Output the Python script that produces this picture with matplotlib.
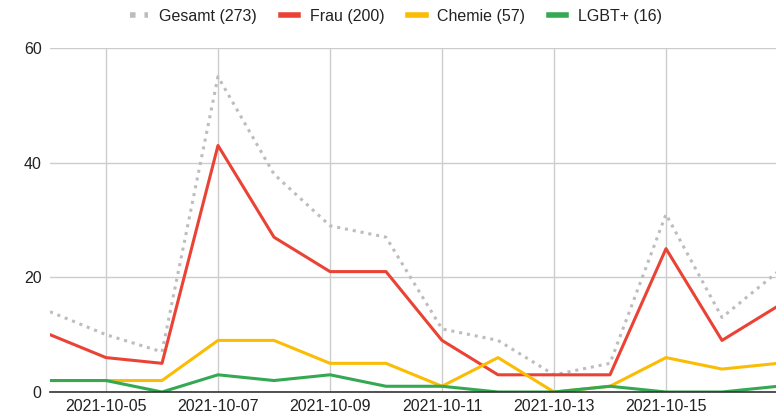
import matplotlib.pyplot as plt
import matplotlib.dates as mdates
import pandas as pd

plt.rcParams['font.family'] = ['Liberation Sans', 'DejaVu Sans']

days = pd.date_range('2021-10-04', '2021-10-17', freq='D')
gesamt = [14, 10, 7, 55, 38, 29, 27, 11, 9, 3, 5, 31, 13, 21]
frau = [10, 6, 5, 43, 27, 21, 21, 9, 3, 3, 3, 25, 9, 15]
chemie = [2, 2, 2, 9, 9, 5, 5, 1, 6, 0, 1, 6, 4, 5]
lgbt = [2, 2, 0, 3, 2, 3, 1, 1, 0, 0, 1, 0, 0, 1]

fig = plt.figure(figsize=(7.76, 4.15), dpi=100)
ax = fig.add_axes([50 / 776, 23 / 415, 726 / 776, 344 / 415])

ax.plot(days, gesamt, color='#bdbdbd', lw=2.2, linestyle=(0, (1, 1.6)),
        label=f'Gesamt ({sum(gesamt)})', zorder=3)
ax.plot(days, frau, color='#ea4335', lw=2.2, label=f'Frau ({sum(frau)})', zorder=4)
ax.plot(days, chemie, color='#fbbc04', lw=2.2, label=f'Chemie ({sum(chemie)})', zorder=4)
ax.plot(days, lgbt, color='#34a853', lw=2.2, label=f'LGBT+ ({sum(lgbt)})', zorder=5)

ax.set_ylim(0, 60)
ax.set_yticks([0, 20, 40, 60])
ax.set_xlim(days[0], days[0] + pd.Timedelta(days=726 / 56))
ax.xaxis.set_major_locator(mdates.DayLocator(bymonthday=[5, 7, 9, 11, 13, 15]))
ax.xaxis.set_major_formatter(mdates.DateFormatter('%Y-%m-%d'))

ax.grid(True, color='#cccccc', lw=1)
ax.set_axisbelow(True)
for s in ['top', 'right', 'left']:
    ax.spines[s].set_visible(False)
ax.spines['bottom'].set_color('#333333')
ax.spines['bottom'].set_linewidth(1.2)
ax.spines['bottom'].set_zorder(6)
ax.tick_params(length=0, labelsize=11.5, colors='#222222', pad=6)
ax.tick_params(axis='x', pad=5)

leg = ax.legend(loc='upper center', bbox_to_anchor=(0.5 - 17 / 726, 1.155), ncol=4,
                frameon=False, fontsize=11.5, handlelength=1.1, handletextpad=0.7,
                columnspacing=1.5)
for t in leg.get_texts():
    t.set_color('#222222')
for h in leg.get_lines():
    h.set_linewidth(4)

fig.savefig('out.png', dpi=100)
